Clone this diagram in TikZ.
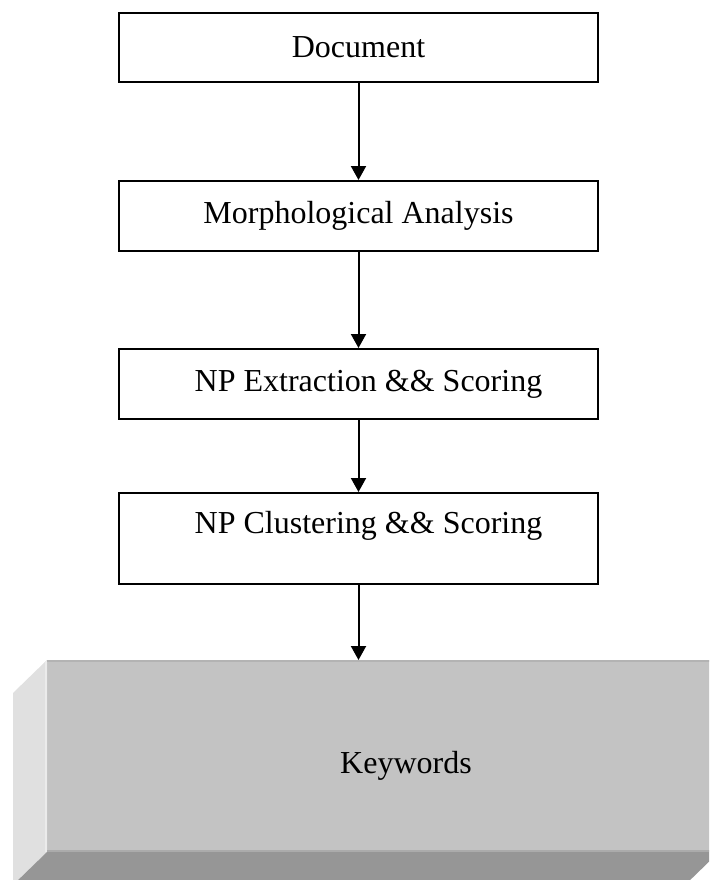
\documentclass[tikz,border=0pt]{standalone}
\usepackage{fontspec}
\setmainfont{Liberation Serif}
\usetikzlibrary{arrows.meta,calc}

\definecolor{faceGray}{HTML}{C3C3C3}
\definecolor{sideGray}{HTML}{E0E0E0}
\definecolor{sideEdge}{HTML}{EBEBEB}
\definecolor{baseGray}{HTML}{969696}
\definecolor{topEdge}{HTML}{B3B3B3}
\definecolor{baseEdge}{HTML}{ABABAB}

\tikzset{
  stagebox/.style={draw=black, line width=2pt, fill=white,
    minimum width=479pt, inner sep=0pt,
    font=\fontsize{32}{38}\selectfont},
  flowarrow/.style={line width=2pt, -{Triangle[width=15pt,length=14pt]}},
  kwlabel/.style={font=\fontsize{32}{38}\selectfont, inner sep=0pt}
}

\begin{document}
\begin{tikzpicture}[x=1pt,y=-1pt]
  \useasboundingbox (0,0) rectangle (709,880);
  \clip (0,0) rectangle (709,880);

  % processing stages
  \node[stagebox, minimum height=69pt] (doc) at (358.5,47.5) {Document};
  \node[stagebox, minimum height=70pt] (mor) at (358.5,216) {Morphological Analysis};
  \node[stagebox, minimum height=70pt] (ext) at (358.5,384)
    {\hspace*{20pt}NP Extraction \&\& Scoring};
  \node[stagebox, minimum height=91pt] (clu) at (358.5,538.5)
    {\raisebox{13pt}[\height][\depth]{\hspace*{20pt}NP Clustering \&\& Scoring}};

  % bevelled output block: front face
  \node[fill=faceGray, draw=none, inner sep=0pt, outer sep=0pt,
        minimum width=672pt, minimum height=192pt] (kw) at (383,756) {};
  % left bevel
  \fill[sideGray] (kw.north west) -- ($(kw.north west)+(-34,33)$)
    -- ($(kw.south west)+(-34,33)$) -- (kw.south west) -- cycle;
  \draw[sideEdge, line width=2pt] ($(kw.north west)+(-1,1)$) -- ($(kw.south west)+(-1,0)$);
  % bottom bevel
  \fill[baseGray] (kw.south west) -- (kw.south east)
    -- ($(kw.south east)+(-34,33)$) -- ($(kw.south west)+(-34,33)$) -- cycle;
  % edges of the front face
  \draw[topEdge, line width=2pt] ($(kw.north west)+(0,1)$) -- ($(kw.north east)+(0,1)$);
  \draw[baseEdge, line width=2pt] ($(kw.south west)+(0,-1)$) -- ($(kw.south east)+(0,-1)$);
  \node[kwlabel] (kwtext) at (406,766) {Keywords};

  % flow connectors
  \draw[flowarrow] (doc.south) -- (mor.north);
  \draw[flowarrow] (mor.south) -- (ext.north);
  \draw[flowarrow] (ext.south) -- (clu.north);
  \draw[flowarrow] (clu.south) -- (clu.south |- kw.north);
\end{tikzpicture}
\end{document}
